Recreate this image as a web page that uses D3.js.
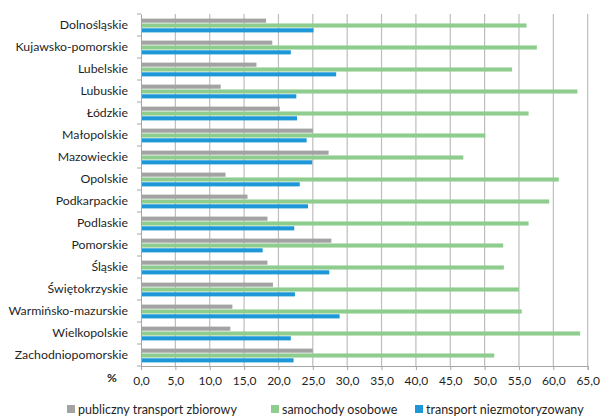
<!DOCTYPE html>
<html><head><meta charset="utf-8">
<script src="https://cdn.jsdelivr.net/npm/d3@7"></script>
<style>body{margin:0;background:#fff}svg{display:block}text{font-family:Lato,"Open Sans",sans-serif}</style>
</head><body><svg id="c" width="602" height="419"></svg>
<script>
const categories = ["Dolnośląskie","Kujawsko-pomorskie","Lubelskie","Lubuskie","Łódzkie","Małopolskie","Mazowieckie","Opolskie","Podkarpackie","Podlaskie","Pomorskie","Śląskie","Świętokrzyskie","Warmińsko-mazurskie","Wielkopolskie","Zachodniopomorskie"];
const seriesNames = ["publiczny transport zbiorowy","samochody osobowe","transport niezmotoryzowany"];
const publiczny = [18.2,19.1,16.8,11.6,20.2,25.0,27.3,12.3,15.5,18.4,27.7,18.4,19.2,13.3,13.0,25.0];
const samochody = [56.1,57.6,54.0,63.5,56.4,50.1,46.9,60.8,59.4,56.4,52.7,52.8,55.0,55.4,63.9,51.4];
const niezmot = [25.1,21.8,28.4,22.6,22.7,24.1,24.9,23.1,24.3,22.3,17.7,27.4,22.4,28.9,21.8,22.2];
const xTicks = [0,5,10,15,20,25,30,35,40,45,50,55,60,65];
const colors = ["#a3a3a3","#8fcd8f","#1d97d7"];

const svg = d3.select("#c");
const L=141, R=587.7, T=14, B=366;
const x = d3.scaleLinear().domain([0,65]).range([L,R]);
const y = d3.scaleBand().domain(categories).range([T,B]);
const inner = d3.scaleBand().domain([0,1,2]).range([0,13.8]).paddingInner(0.15);

// gridlines
svg.append("g").selectAll("line").data(xTicks.slice(1)).join("line")
  .attr("x1",d=>x(d)).attr("x2",d=>x(d)).attr("y1",T).attr("y2",B)
  .attr("stroke","#bdbdbd").attr("stroke-width",1.2);

const data = [publiczny,samochody,niezmot];
const g = svg.append("g");
categories.forEach((c,i)=>{
  const y0 = y(c)+y.bandwidth()/2-6.4;
  data.forEach((arr,s)=>{
    g.append("rect").attr("x",x(0)).attr("y",y0+inner(s))
      .attr("width",x(arr[i])-x(0)).attr("height",inner.bandwidth())
      .attr("fill",colors[s]);
  });
});

// y axis
const ya = svg.append("g").attr("transform",`translate(${L},0)`)
  .call(d3.axisLeft(y).tickSize(0).tickPadding(13));
ya.select(".domain").attr("stroke","#a6a6a6");
ya.selectAll("text").attr("font-size",12.3).attr("fill","#1f1f1f").attr("font-family","Lato");
svg.append("g").selectAll("line").data(d3.range(17)).join("line")
  .attr("x1",L-4).attr("x2",L).attr("y1",d=>T+d*y.step()).attr("y2",d=>T+d*y.step())
  .attr("stroke","#a6a6a6");

// x axis
const xa = svg.append("g").attr("transform",`translate(0,${B})`)
  .call(d3.axisBottom(x).tickValues(xTicks).tickSize(4).tickPadding(6)
    .tickFormat(d=>d3.format(".1f")(d).replace(".",",")));
xa.select(".domain").attr("stroke","#a6a6a6");
xa.selectAll("line").attr("stroke","#a6a6a6");
xa.selectAll("text").attr("font-size",12).attr("fill","#1f1f1f").attr("font-family","Lato");
svg.append("text").attr("x",112).attr("y",382).attr("text-anchor","middle")
  .attr("font-size",12).attr("font-weight","bold").attr("fill","#1f1f1f").text("%");

// legend
const legX = [67,271,415];
seriesNames.forEach((n,i)=>{
  svg.append("rect").attr("x",legX[i]).attr("y",405).attr("width",8).attr("height",8).attr("fill",colors[i]);
  svg.append("text").attr("x",legX[i]+11).attr("y",413.5).attr("font-size",12.5).attr("fill","#1f1f1f").text(n);
});
</script></body></html>
